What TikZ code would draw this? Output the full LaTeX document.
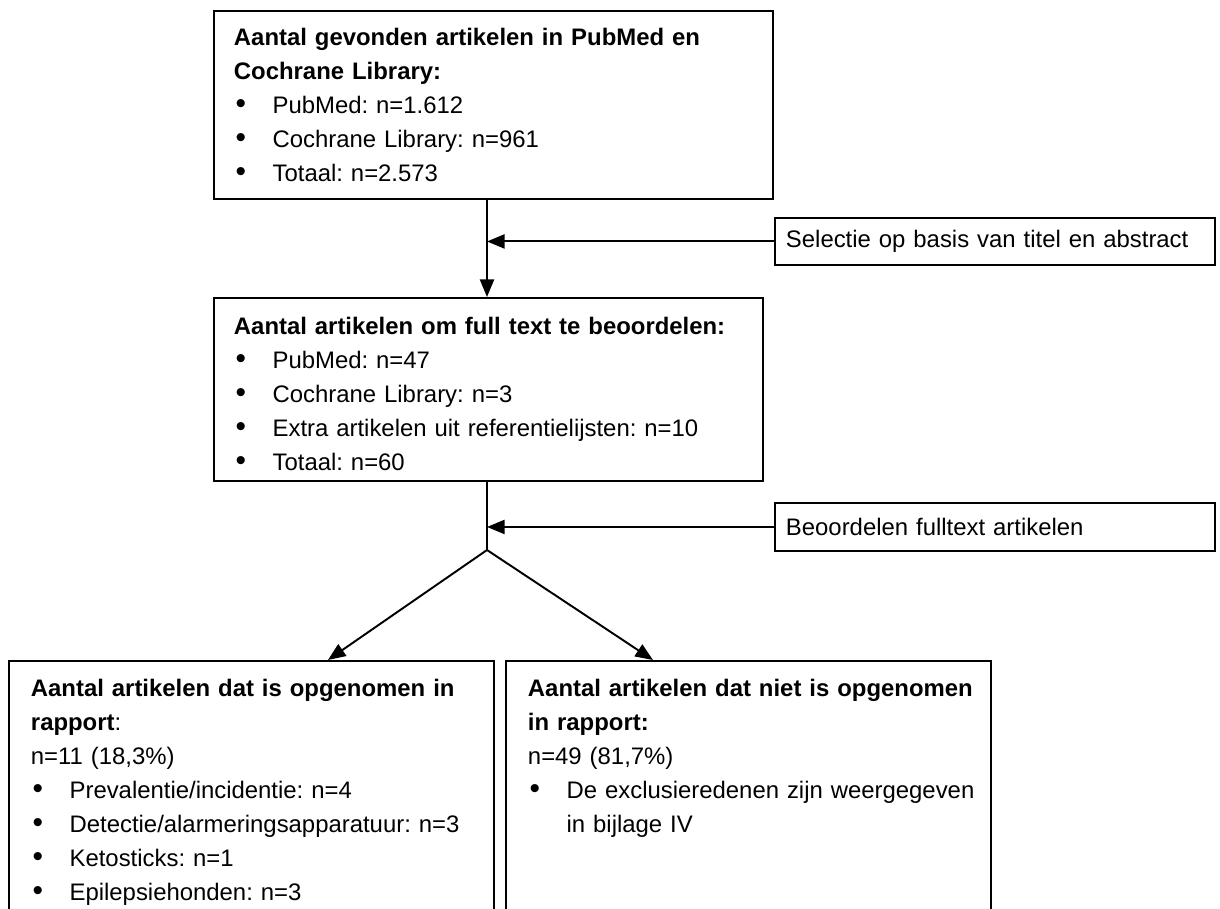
\documentclass[tikz,border=0pt]{standalone}
\usepackage{fontspec}
\setmainfont{Liberation Sans}
\usetikzlibrary{arrows.meta, positioning}
\frenchspacing

\newcommand{\itm}[1]{\mbox{\makebox[22pt][l]{\hspace{1pt}{\fontsize{17}{19.4}\selectfont\textbullet}}#1}}

\begin{document}
\begin{tikzpicture}[x=0.02cm, y=-0.02cm,
  every node/.style={font=\fontsize{13.6}{19.4}\selectfont},
  flowbox/.style={draw, line width=1.1pt, anchor=north west, align=left,
                  inner xsep=0.4cm, inner ysep=0pt},
  sidebox/.style={draw, line width=1.1pt, anchor=north west, align=left,
                  minimum width=8.8cm, text width=8.36cm, inner xsep=0.22cm},
  bottombox/.style={draw, line width=1.1pt, anchor=north west, align=left,
                    minimum width=9.7cm, text width=8.82cm, inner xsep=0.44cm,
                    inner ysep=0.36cm, text depth=6cm},
  arr/.style={-{Triangle[length=10pt,width=8pt]}, line width=1.1pt},
  plain/.style={line width=1.1pt}
]
  \useasboundingbox (0,0) rectangle (1220,909);
  \clip (0,0) rectangle (1220,909);

  % ── Search results ──
  \node[flowbox, minimum width=11.18cm, minimum height=3.76cm, text width=10.38cm]
    (found) at (213,10) {\textbf{Aantal gevonden artikelen in PubMed en}\\
      \textbf{Cochrane Library:}\\
      \itm{PubMed: n=1.612}\\
      \itm{Cochrane Library: n=961}\\
      \itm{Totaal: n=2.573}};

  % ── Full text screening ──
  \node[flowbox, minimum width=10.98cm, minimum height=3.66cm, text width=10.18cm]
    (screen) at (213,297) {\rule{0pt}{15pt}\textbf{Aantal artikelen om full text te beoordelen:}\\
      \itm{PubMed: n=47}\\
      \itm{Cochrane Library: n=3}\\
      \itm{Extra artikelen uit referentielijsten: n=10}\\
      \itm{Totaal: n=60}};

  % ── Side steps ──
  \node[sidebox, minimum height=0.94cm] (sel) at (774,217)
    {Selectie op basis van titel en abstract};
  \node[sidebox, minimum height=0.96cm] (full) at (774,502)
    {Beoordelen fulltext artikelen};

  % ── Outcome ──
  \node[bottombox] (incl) at (8,660) {\mbox{\textbf{Aantal artikelen dat is opgenomen in}}\\
      \textbf{rapport}:\\
      n=11 (18,3\%)\\
      \itm{Prevalentie/incidentie: n=4}\\
      \itm{Detectie/alarmeringsapparatuur: n=3}\\
      \itm{Ketosticks: n=1}\\
      \itm{Epilepsiehonden: n=3}};
  \node[bottombox] (excl) at (505,660) {\mbox{\textbf{Aantal artikelen dat niet is opgenomen}}\\
      \textbf{in rapport:}\\
      n=49 (81,7\%)\\
      \itm{De exclusieredenen zijn weergegeven}\\
      \hspace*{22pt}in bijlage IV};

  % ── Connectors ──
  \coordinate (spine) at (487,550);

  \draw[arr] (found.south -| spine) -- (screen.north -| spine);
  \draw[arr] (sel.west) -- (sel.west -| spine);
  \draw[plain] (screen.south -| spine) -- (spine);
  \draw[arr] (full.west) -- (full.west -| spine);
  \draw[arr] (spine) -- ([xshift=6.4cm]incl.north west);
  \draw[arr] (spine) -- ([xshift=2.96cm]excl.north west);

\end{tikzpicture}
\end{document}
